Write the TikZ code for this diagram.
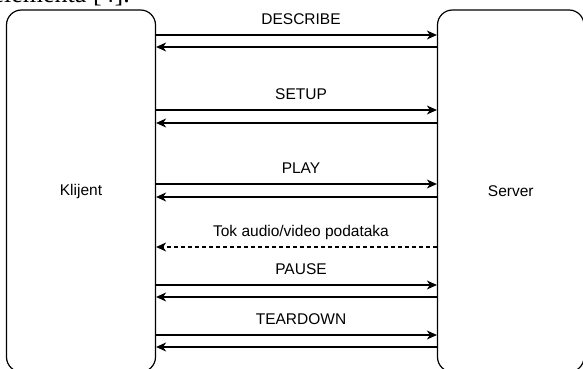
\documentclass[tikz,border=0pt]{standalone}
\usepackage{fontspec}
\setmainfont{Liberation Sans}
\newfontfamily\cutfont{Liberation Serif}
\usetikzlibrary{arrows.meta}

\begin{document}
\begin{tikzpicture}[x=1pt,y=-1pt,
    party/.style={draw, line width=1.2pt, rounded corners=15pt, font=\fontsize{15.5}{18}\selectfont},
    msg/.style={line width=1.1pt, -{Stealth[length=10pt,width=9pt,inset=3pt]}},
    lbl/.style={font=\fontsize{15.5}{18}\selectfont, inner sep=0pt, text depth=0pt, above=9.5pt, xshift=4.5pt}]
    \useasboundingbox (0,0) rectangle (583,369);

    % text of the page, cut by the top edge
    \node[anchor=base east, inner sep=0pt, font=\cutfont\fontsize{26}{30}\selectfont] (cut) at (130,3) {elementa [4].};

    \node[party, minimum width=149pt, minimum height=362pt] (k) at (81,191) {Klijent};
    \node[party, minimum width=146.5pt, minimum height=362pt] (s) at (510.75,191) {Server};

    \draw[msg] (k.east |- 0,35) -- node[lbl] {DESCRIBE} (s.west |- 0,35);
    \draw[msg] (s.west |- 0,47) -- (k.east |- 0,47);

    \draw[msg] (k.east |- 0,110) -- node[lbl] {SETUP} (s.west |- 0,110);
    \draw[msg] (s.west |- 0,123) -- (k.east |- 0,123);

    \draw[msg] (k.east |- 0,184) -- node[lbl] {PLAY} (s.west |- 0,184);
    \draw[msg] (s.west |- 0,197) -- (k.east |- 0,197);

    \draw[msg, dash pattern=on 4pt off 3pt] (s.west |- 0,247) -- node[lbl] {Tok audio/video podataka} (k.east |- 0,247);

    \draw[msg] (k.east |- 0,285) -- node[lbl] {PAUSE} (s.west |- 0,285);
    \draw[msg] (s.west |- 0,297) -- (k.east |- 0,297);

    \draw[msg] (k.east |- 0,335) -- node[lbl] {TEARDOWN} (s.west |- 0,335);
    \draw[msg] (s.west |- 0,347) -- (k.east |- 0,347);
\end{tikzpicture}
\end{document}
